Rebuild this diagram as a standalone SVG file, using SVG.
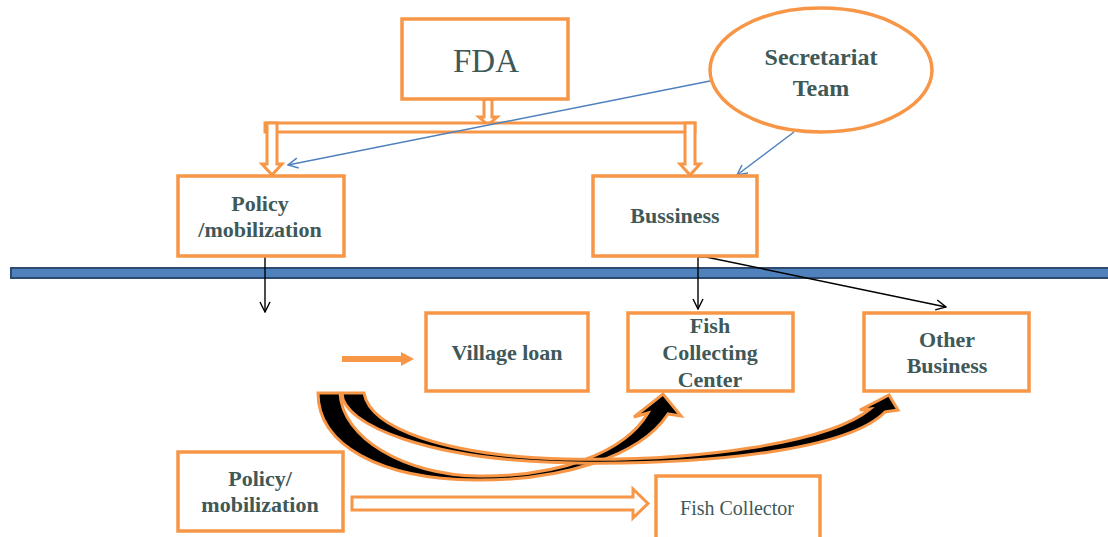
<svg xmlns="http://www.w3.org/2000/svg" width="1108" height="537" viewBox="0 0 1108 537">
<style>
.box{fill:#fff;stroke:#F79646;stroke-width:3.5}
.blk{fill:#fff;stroke:#F79646;stroke-width:3;stroke-linejoin:miter}
.t{font-family:"Liberation Serif","Times New Roman",serif;fill:#3F5858;text-anchor:middle}
.b{font-weight:bold;font-size:22px}
.blue{stroke:#4F81BD;stroke-width:1.5;fill:none}
.black{stroke:#000;stroke-width:1.4;fill:none}
.curve{fill:#000;stroke:#F79646;stroke-width:3;stroke-linejoin:miter}
</style>
<defs>
<marker id="vb" viewBox="0 0 12 12" refX="11" refY="6" markerWidth="12" markerHeight="12" markerUnits="userSpaceOnUse" orient="auto">
<path d="M1,1 L11,6 L1,11" fill="none" stroke="#4F81BD" stroke-width="1.5"/>
</marker>
<marker id="vk" viewBox="0 0 12 12" refX="11" refY="6" markerWidth="12" markerHeight="12" markerUnits="userSpaceOnUse" orient="auto">
<path d="M1,1 L11,6 L1,11" fill="none" stroke="#000" stroke-width="1.4"/>
</marker>
</defs>
<rect width="1108" height="537" fill="#fff"/>

<g id="connectors">
  <!-- FDA branching double-line arrows -->
  <polygon class="blk" points="484,99 492,99 492,117 497,117 488,125 479,117 484,117"/>
  <rect class="blk" x="265" y="123" width="430" height="9"/>
  <polygon class="blk" points="267,123 277,123 277,164 282,164 272,175 262,164 267,164"/>
  <polygon class="blk" points="685,123 695,123 695,164 700,164 690,175 680,164 685,164"/>
  <!-- blue lines from Secretariat -->
  <line class="blue" x1="710" y1="81" x2="288" y2="165" marker-end="url(#vb)"/>
  <line class="blue" x1="794" y1="132" x2="737" y2="175" marker-end="url(#vb)"/>
  <!-- separator bar -->
  <rect x="11" y="268" width="1100" height="10" fill="#4F81BD" stroke="#2E4A6E" stroke-width="2"/>
  <!-- black arrows -->
  <line class="black" x1="265" y1="257" x2="265" y2="312" marker-end="url(#vk)"/>
  <line class="black" x1="698" y1="257" x2="698" y2="309" marker-end="url(#vk)"/>
  <polyline class="black" points="698,257 706,257 946,307" marker-end="url(#vk)"/>
  <!-- orange arrow to Village loan -->
  <line x1="342" y1="359" x2="403" y2="359" stroke="#F79646" stroke-width="6"/>
  <polygon points="401,352 414,359 401,366" fill="#F79646"/>
  <!-- curved arrows -->
  <path class="curve" d="M318,393 L340,393 C342,438 405,475 478,476 C560,477 625,452 648,413 L634,417 L663,394 L681,416 L668,414 C640,457 560,481 475,480 C380,479 318,445 318,393 Z"/>
  <path class="curve" d="M342,393 L364,393 C370,428 445,456 565,459 C700,462 830,442 870,409 L860,410 L889,395 L898,410 L885,412 C850,448 720,465 575,463 C430,461 342,425 342,393 Z"/>
  <!-- hollow arrow to Fish Collector -->
  <polygon class="blk" points="352,497 633,497 633,489 648,503.5 633,518 633,510 352,510"/>
</g>

<g id="fda">
  <rect class="box" x="402" y="19" width="166" height="80"/>
  <text class="t" x="486" y="72" font-size="33">FDA</text>
</g>
<g id="secretariat">
  <ellipse cx="821" cy="70" rx="111" ry="62" fill="#fff" stroke="#F79646" stroke-width="3.5"/>
  <text class="t" x="821" y="65" font-size="24" font-weight="bold">Secretariat</text>
  <text class="t" x="821" y="96" font-size="24" font-weight="bold">Team</text>
</g>
<g id="policy-top">
  <rect class="box" x="178" y="176" width="166" height="80"/>
  <text class="t b" x="260" y="211">Policy</text>
  <text class="t b" x="260" y="237">/mobilization</text>
</g>
<g id="bussiness">
  <rect class="box" x="593" y="176" width="164" height="80"/>
  <text class="t b" x="675" y="223">Bussiness</text>
</g>
<g id="village-loan">
  <rect class="box" x="426" y="313" width="162" height="78"/>
  <text class="t b" x="507" y="360">Village loan</text>
</g>
<g id="fish-collecting-center">
  <rect class="box" x="628" y="313" width="165" height="78"/>
  <text class="t b" x="710" y="333">Fish</text>
  <text class="t b" x="710" y="360">Collecting</text>
  <text class="t b" x="710" y="387">Center</text>
</g>
<g id="other-business">
  <rect class="box" x="864" y="313" width="165" height="78"/>
  <text class="t b" x="947" y="347">Other</text>
  <text class="t b" x="947" y="373">Business</text>
</g>
<g id="policy-bottom">
  <rect class="box" x="178" y="452" width="165" height="79"/>
  <text class="t b" x="260" y="486">Policy/</text>
  <text class="t b" x="260" y="512">mobilization</text>
</g>
<g id="fish-collector">
  <path d="M656,540 L656,476 L820,476 L820,540" fill="#fff" stroke="#F79646" stroke-width="3.5"/>
  <text class="t" x="737" y="515" font-size="20">Fish Collector</text>
</g>
</svg>
